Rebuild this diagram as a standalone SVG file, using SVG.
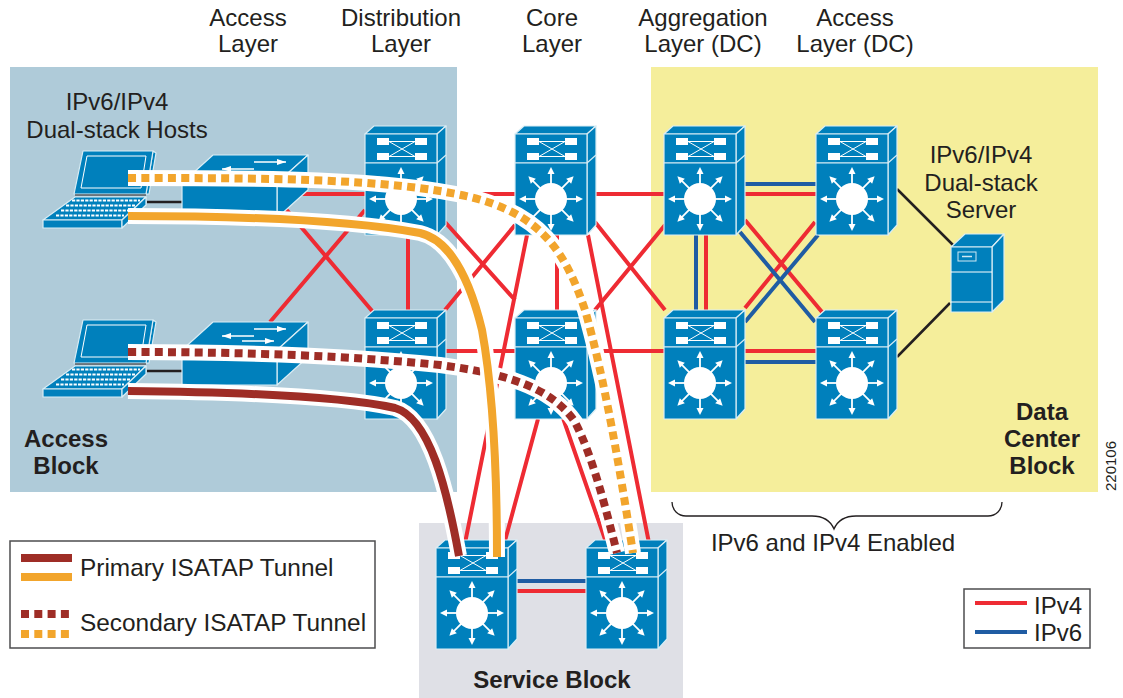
<svg xmlns="http://www.w3.org/2000/svg" width="1123" height="698" viewBox="0 0 1123 698">
<style>
text{font-family:"Liberation Sans",Arial,sans-serif;font-size:24px;fill:#231f20;text-anchor:middle}
.b{font-weight:bold}
.s{text-anchor:start}
.l{font-size:24.4px}
.k{fill:#0080bc;stroke:#d9edf5;stroke-width:1.2;stroke-linejoin:round}
.w{fill:#fff}
.tl{stroke:#fff;stroke-width:1;fill:none}
.r{stroke:#ee2b33;stroke-width:4;fill:none}
.u{stroke:#1f5ca3;stroke-width:4;fill:none}
.n{stroke:#231f20;stroke-width:2.5;fill:none}
.h{stroke:#fff;stroke-width:16;fill:none}
.ob{stroke:#f2a52c;stroke-width:8;fill:none}
.bb{stroke:#9e2d26;stroke-width:8;fill:none}
.d{stroke-dasharray:8 5.3}
.box{fill:#fff;stroke:#4d4d4f;stroke-width:1.5}
</style>
<defs>
<g id="ar"><path d="M0-14V-26" stroke="#fff" stroke-width="1.800"/><path d="M0-32L-3.500-25H3.500Z" class="w"/></g>
<g id="mls">
<path class="k" d="M0 0L9-8H81L72 0Z"/>
<path class="k" d="M72 0L81-8V91L72 101Z"/>
<path class="k" d="M72 29L81 21" />
<rect class="k" x="0" y="0" width="72" height="29"/>
<rect class="k" x="0" y="29" width="72" height="72"/>
<rect class="w" x="12" y="4" width="12" height="7"/><rect class="w" x="50" y="4" width="12" height="7"/>
<rect class="w" x="12" y="19" width="12" height="7"/><rect class="w" x="50" y="19" width="12" height="7"/>
<path class="tl" d="M24 7.500H50M24 22.500H50M24 7.500L50 22.500M24 22.500L50 7.500"/>
<g transform="translate(36 65)">
<circle r="16" class="w"/>
<use href="#ar"/><use href="#ar" transform="rotate(45)"/><use href="#ar" transform="rotate(90)"/><use href="#ar" transform="rotate(135)"/>
<use href="#ar" transform="rotate(180)"/><use href="#ar" transform="rotate(225)"/><use href="#ar" transform="rotate(270)"/><use href="#ar" transform="rotate(315)"/>
</g>
</g>
<g id="laptop">
<path class="k" d="M153 151L156 153L149 194H146Z"/>
<path class="k" d="M83 151H153L146 194H74Z"/>
<path class="tl" d="M87 156H146L141 188H81Z"/>
<path d="M75 195H146" stroke="#231f20" stroke-width="1"/>
<path class="k" d="M75 197H146L122 220H43Z"/>
<path class="k" d="M43 220H122V228H43Z"/>
<path class="k" d="M122 220L146 197V205L122 228Z"/>
<g stroke="#fff" stroke-width="2.200" stroke-dasharray="3.200 1.200" fill="none"><path d="M72 200.500H140"/><path d="M66 205.500H135"/><path d="M61 210.500H130"/><path d="M56 215.500H124"/></g>
</g>
<g id="sw">
<path class="k" d="M182 350L213 322H308L277 350Z"/>
<path class="k" d="M277 350L308 322V357L277 385Z"/>
<rect class="k" x="182" y="350" width="95" height="35"/>
<g fill="none" stroke="#fff" stroke-width="1.500"><path d="M254 329H286M222 336H254M242 341H274"/></g>
<path class="w" d="M286 329L277 326V332ZM222 336L231 333V339ZM274 341L265 338V344Z"/>
</g>
</defs>

<g id="areas">
<rect x="10" y="67" width="447" height="425" fill="#afcbd9"/>
<rect x="651" y="67" width="447" height="425" fill="#f5ee9b"/>
<rect x="419" y="523" width="264" height="175" fill="#dfe0e6"/>
</g>

<g id="connectors">
<path class="r" d="M295 194H365M285 208L373 312M270 322L365 210M408 235V318M445 194H515M445 351H515M445 222L515 300M445 310L515 225M557 235V318M595 194H665M595 351H665M595 222L665 310M595 310L665 225"/>
<path class="r" d="M527 235L464 548M538 419L503 548M563 418L608 548M588 235L650 548"/>
<path class="r" d="M745 194H816M745 351H816M706 235V318M745 220L822 312M745 308L815 222M516 591H586"/>
<path class="u" d="M745 184H816M745 362H816M696 235V318M740 232L815 322M745 322L818 235M516 581H586"/>
<path class="n" d="M897 189L953 245M897 357L950 303M147 202H182M147 371H182"/>
</g>

<g id="laptop-1"><use href="#laptop"/></g>
<g id="laptop-2"><use href="#laptop" transform="translate(0 169)"/></g>
<g id="switch-1"><use href="#sw" transform="translate(0 -167)"/></g>
<g id="switch-2"><use href="#sw"/></g>
<g id="dist-top" transform="translate(365 134)"><use href="#mls"/></g>
<g id="dist-bottom" transform="translate(365 318)"><use href="#mls"/></g>
<g id="core-top" transform="translate(515 134)"><use href="#mls"/></g>
<g id="core-bottom" transform="translate(515 318)"><use href="#mls"/></g>
<g id="agg-top" transform="translate(664 134)"><use href="#mls"/></g>
<g id="agg-bottom" transform="translate(664 318)"><use href="#mls"/></g>
<g id="acc-top" transform="translate(816 134)"><use href="#mls"/></g>
<g id="acc-bottom" transform="translate(816 318)"><use href="#mls"/></g>
<g id="svc-left" transform="translate(436 548)"><use href="#mls"/></g>
<g id="svc-right" transform="translate(586 548)"><use href="#mls"/></g>
<g id="server">
<path class="k" d="M951 247L965 234H1004L992 247Z"/>
<path class="k" d="M992 247L1004 234V300L992 312Z"/>
<rect class="k" x="951" y="247" width="41" height="65"/>
<path class="tl" d="M951 272H992M951 302H992"/>
<rect x="958" y="252" width="18" height="9" fill="none" stroke="#cfe8f3" stroke-width="1"/>
<path d="M962 256.500H972" stroke="#cfe8f3" stroke-width="1.500"/>
</g>

<g id="tunnels">
<path class="h" d="M128 352C250 352 350 356 440 365C500 373 550 385 575 422C592 455 605 505 617 553"/>
<path class="bb d" d="M128 352C250 352 350 356 440 365C500 373 550 385 575 422C592 455 605 505 617 553"/>
<path class="h" d="M128 391C230 392 340 396 395 408C430 418 447 490 459 556"/>
<path class="bb" d="M128 391C230 392 340 396 395 408C430 418 447 490 459 556"/>
<path class="h" d="M128 216C260 216 360 222 420 233C450 240 470 280 482 330C492 385 497 470 497 557"/>
<path class="ob" d="M128 216C260 216 360 222 420 233C450 240 470 280 482 330C492 385 497 470 497 557"/>
<path class="h" d="M128 178C260 178 390 178 470 197C540 214 565 250 585 310C605 380 620 470 633 553"/>
<path class="ob d" d="M128 178C260 178 390 178 470 197C540 214 565 250 585 310C605 380 620 470 633 553"/>
</g>

<g id="brace"><path d="M672 502C672 510 678 516 686 516H812C824 516 831 522 834 529C837 522 844 516 856 516H988C996 516 1002 510 1002 502" fill="none" stroke="#231f20" stroke-width="1.300"/></g>

<g id="legend-tunnels">
<rect class="box" x="10" y="541" width="365" height="107"/>
<path class="bb" d="M21 558H72"/>
<path class="ob" d="M21 577H72"/>
<path class="bb d" d="M21 614H69"/>
<path class="ob d" d="M21 634H69"/>
<text class="s l" x="80" y="576">Primary ISATAP Tunnel</text>
<text class="s l" x="80" y="631">Secondary ISATAP Tunnel</text>
</g>
<g id="legend-ip">
<rect class="box" x="964" y="589" width="126" height="59"/>
<path class="r" d="M975 603H1027"/>
<path class="u" d="M975 632H1027"/>
<text class="s" x="1034" y="614">IPv4</text>
<text class="s" x="1034" y="641">IPv6</text>
</g>

<g id="labels">
<text x="248" y="26">Access</text><text x="248" y="52">Layer</text>
<text x="401" y="26">Distribution</text><text x="401" y="52">Layer</text>
<text x="552" y="26">Core</text><text x="552" y="52">Layer</text>
<text x="703" y="26">Aggregation</text><text x="703" y="52">Layer (DC)</text>
<text x="855" y="26">Access</text><text x="855" y="52">Layer (DC)</text>
<text x="117" y="110">IPv6/IPv4</text><text x="117" y="138">Dual-stack Hosts</text>
<text x="981" y="163">IPv6/IPv4</text><text x="981" y="191">Dual-stack</text><text x="981" y="218">Server</text>
<text class="b" x="66" y="447">Access</text><text class="b" x="66" y="474">Block</text>
<text class="b" x="1042" y="420">Data</text><text class="b" x="1042" y="447">Center</text><text class="b" x="1042" y="474">Block</text>
<text class="b" x="552" y="688">Service Block</text>
<text x="833" y="551">IPv6 and IPv4 Enabled</text>
<text transform="translate(1116 466) rotate(-90)" style="font-size:15px">220106</text>
</g>
</svg>
